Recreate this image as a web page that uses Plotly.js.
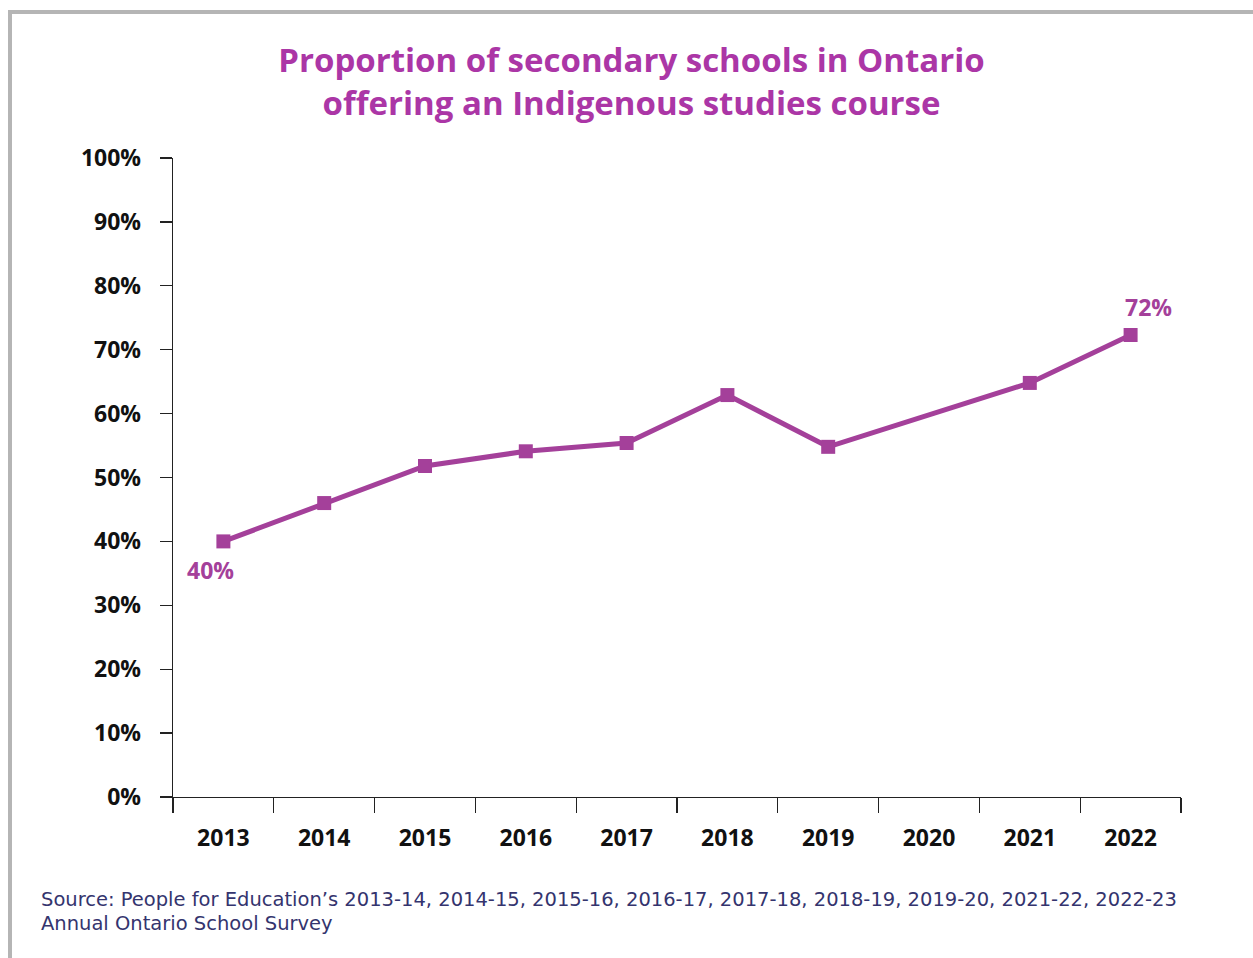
<!DOCTYPE html>
<html>
<head>
<meta charset="utf-8">
<script src="https://cdn.plot.ly/plotly-3.0.1.min.js"></script>
<style>
html,body{margin:0;padding:0;background:#fff;}
#chart{position:absolute;left:0;top:0;width:1253px;height:958px;}
#frame{position:absolute;left:8px;top:10px;width:1245px;height:948px;border-top:4px solid #b5b5b5;border-left:4px solid #b5b5b5;box-sizing:border-box;pointer-events:none;}
</style>
</head>
<body>
<div id="chart"></div>
<div id="frame"></div>
<script>
const years = ["2013","2014","2015","2016","2017","2018","2019","2020","2021","2022"];
const proportion = [40, 46, 51.8, 54.1, 55.4, 62.9, 54.8, null, 64.8, 72.3];
const yTickVals = [0,10,20,30,40,50,60,70,80,90,100];
const yTickText = ["0%","10%","20%","30%","40%","50%","60%","70%","80%","90%","100%"];
const titleText = "Proportion of secondary schools in Ontario<br>offering an Indigenous studies course";
const sourceLine1 = "Source: People for Education’s 2013-14, 2014-15, 2015-16, 2016-17, 2017-18, 2018-19, 2019-20, 2021-22, 2022-23";
const sourceLine2 = "Annual Ontario School Survey";
const firstLabel = "40%";
const lastLabel = "72%";

const purple = "#a4409a";
const font = "'Open Sans', Lato, sans-serif";

const trace = {
  x: years,
  y: proportion,
  type: "scatter",
  mode: "lines+markers",
  connectgaps: true,
  line: {color: purple, width: 5},
  marker: {symbol: "square", size: 14, color: purple},
  hoverinfo: "skip",
  showlegend: false
};

const layout = {
  width: 1253,
  height: 958,
  paper_bgcolor: "#ffffff",
  plot_bgcolor: "#ffffff",
  margin: {l: 173, r: 72, t: 158, b: 161},
  title: {
    text: titleText,
    font: {family: font, size: 33, color: "#ab36a6", weight: 700},
    x: 0.504, xref: "container", xanchor: "center",
    y: 0.925, yref: "container", yanchor: "top"
  },
  xaxis: {
    type: "category",
    categoryorder: "array",
    categoryarray: years,
    range: [-0.5, years.length - 0.5],
    autorange: false,
    tickson: "boundaries",
    ticks: "outside",
    ticklen: 15,
    tickcolor: "#222",
    tickwidth: 1.3,
    tickangle: 0,
    showline: true,
    linecolor: "#222",
    linewidth: 1.3,
    showgrid: false,
    zeroline: false,
    tickfont: {family: font, size: 23, color: "#111", weight: 700},
    ticklabelstandoff: 20,
    fixedrange: true
  },
  yaxis: {
    range: [0, 100],
    autorange: false,
    tickvals: yTickVals,
    ticktext: yTickText,
    ticks: "outside",
    ticklen: 12,
    tickcolor: "#222",
    tickwidth: 1.3,
    showline: true,
    linecolor: "#222",
    linewidth: 1.3,
    showgrid: false,
    zeroline: false,
    tickfont: {family: font, size: 23, color: "#111", weight: 700},
    ticklabelstandoff: 14,
    fixedrange: true
  },
  annotations: [
    {x: 0, y: proportion[0], xref: "x", yref: "y", text: firstLabel, showarrow: false,
     xshift: -13, yshift: -29, font: {family: font, size: 23, color: purple, weight: 700}},
    {x: years.length - 1, y: proportion[proportion.length-1], xref: "x", yref: "y", text: lastLabel, showarrow: false,
     xshift: 18, yshift: 28, font: {family: font, size: 23, color: purple, weight: 700}},
    {x: (39 - 173) / 1008, xref: "paper", xanchor: "left", y: (797 - 899) / 639, yref: "paper", yanchor: "middle",
     align: "left", showarrow: false, text: sourceLine1,
     font: {family: "'DejaVu Sans', sans-serif", size: 19.5, color: "#34346e"}},
    {x: (39 - 173) / 1008, xref: "paper", xanchor: "left", y: (797 - 923) / 639, yref: "paper", yanchor: "middle",
     align: "left", showarrow: false, text: sourceLine2,
     font: {family: "'DejaVu Sans', sans-serif", size: 19.5, color: "#34346e"}}
  ]
};

Plotly.newPlot("chart", [trace], layout, {displayModeBar: false, staticPlot: true});
</script>
</body>
</html>
